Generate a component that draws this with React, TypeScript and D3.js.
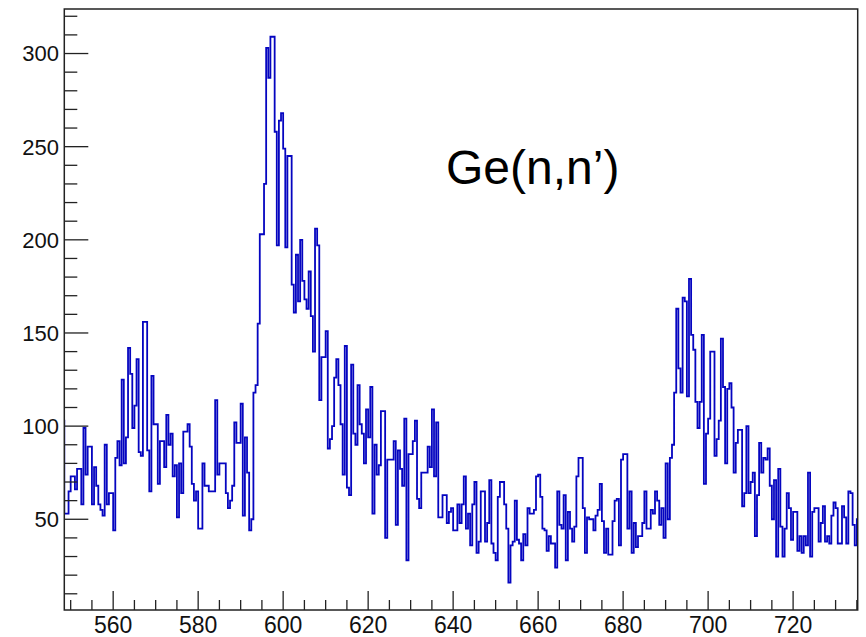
import React from "react";
import * as d3 from "d3";

// Histogram definition (energy axis, keV)
const HIST_START = 548.0;
const BIN_WIDTH = 0.5;

// bin just left of the visible range (clipped by the frame)
const leadBin = [103];
// 548.5 - 591 keV
const countsA = [
  53, 53, 65, 73, 73, 66, 77, 77, 58, 99, 74, 89, 89, 58, 78, 68, 58, 55, 52, 90,
  58, 64, 64, 44, 83, 92, 79, 125, 80, 94, 142, 128, 99, 111, 136, 86, 84, 156, 156, 87,
  65, 127, 101, 101, 69, 92, 92, 78, 106, 90, 96, 73, 79, 51, 80, 64, 97, 97, 101, 89,
  69, 60, 65, 45, 45, 80, 68, 68, 65, 65, 65, 114, 74, 80, 80, 80, 64, 56, 60, 68,
  102, 91, 91, 112, 52,
];
// 591 - 635.5 keV (main peak)
const countsB = [
  94, 75, 44, 50, 118, 122, 155, 203, 203, 230,
  303, 287, 309, 309, 258, 197, 264, 268, 249, 196,
  245, 245, 176, 161, 192, 167, 200, 178, 168, 163,
  183, 159, 140, 206, 197, 114, 137, 137, 151, 88,
  93, 100, 126, 136, 122, 101, 74, 143, 67, 63,
  133, 96, 90, 122, 101, 96, 80, 109, 94, 121,
  53, 90, 74, 79, 108, 108, 40, 82, 82, 82,
  92, 47, 87, 77, 68, 104, 28, 85, 85, 92,
  103, 61, 56, 75, 75, 75, 89, 78, 109,
];
// 635.5 - 689 keV (flat region)
const countsC = [
  73, 102, 51, 51, 63, 63, 48, 54, 56, 44,
  44, 58, 48, 58, 73, 45, 53, 36, 58, 70,
  32, 38, 65, 65, 38, 48, 71, 37, 32, 28,
  62, 70, 70, 58, 45, 16, 36, 38, 60, 39,
  37, 28, 42, 36, 56, 53, 53, 55, 73, 74,
  62, 45, 44, 33, 41, 37, 37, 24, 65, 47,
  45, 63, 28, 54, 45, 38, 46, 73, 83, 83,
  56, 32, 51, 50, 50, 44, 52, 55, 69, 49,
  32, 45, 31, 31, 49, 60, 61, 36, 82, 85,
  85, 45, 65, 32, 48, 35, 41, 41, 48, 65,
  45, 45, 55, 53, 65, 60, 47,
];
// 689 - 735.5 keV (second peak)
const countsD = [
  56, 40, 80, 50, 83, 90, 118, 163, 131, 118,
  169, 167, 116, 179, 149, 141, 113, 99, 113, 149,
  69, 96, 104, 140, 140, 84, 93, 103, 147, 121,
  80, 120, 123, 110, 75, 91, 98, 98, 57, 64,
  100, 64, 70, 75, 41, 63, 91, 75, 83, 82,
  88, 68, 50, 71, 30, 77, 46, 30, 45, 64,
  56, 39, 54, 54, 33, 41, 32, 41, 36, 75,
  30, 54, 56, 56, 38, 48, 57, 38, 41, 37,
  52, 59, 56, 37, 37, 57, 51, 37, 65, 64,
  47, 36, 50,
];

const xMajorTicks = [560, 580, 600, 620, 640, 660, 680, 700, 720];
const yMajorTicks = [50, 100, 150, 200, 250, 300];
const xDomain = [548.5, 735.2];
const yDomain = [1.3, 323.9];
const label = "Ge(n,n\u2019)";

export default function App() {
  const W = 866;
  const H = 637;
  const left = 64.3;
  const right = 857.7;
  const top = 9;
  const bottom = 610;

  const x = d3.scaleLinear().domain(xDomain).range([left, right]);
  const y = d3.scaleLinear().domain(yDomain).range([bottom, top]);

  const counts = [...leadBin, ...countsA, ...countsB, ...countsC, ...countsD];
  const pts: [number, number][] = counts.map((c, i) => [HIST_START + i * BIN_WIDTH, c]);
  pts.push([HIST_START + counts.length * BIN_WIDTH, counts[counts.length - 1]]);
  const line = d3
    .line<[number, number]>()
    .x((d) => x(d[0]))
    .y((d) => y(d[1]))
    .curve(d3.curveStepAfter);

  const xMinor = d3.range(550, 736, 5).filter((v) => !xMajorTicks.includes(v) && v >= xDomain[0] && v <= xDomain[1]);
  const yMinor = d3.range(10, 330, 10).filter((v) => !yMajorTicks.includes(v) && v >= yDomain[0] && v <= yDomain[1]);

  const font = "'Liberation Sans', Arial, Helvetica, sans-serif";
  const axisColor = "#222";

  return (
    <svg
      width={W}
      height={H}
      style={{ position: "absolute", left: 0, top: 0, background: "#fff" }}
    >
      <defs>
        <clipPath id="frame">
          <rect x={left} y={top} width={right - left} height={bottom - top} />
        </clipPath>
      </defs>
      <rect x={0} y={0} width={W} height={H} fill="#fff" />
      <path
        d={line(pts) || ""}
        fill="none"
        stroke="#0505c0"
        strokeWidth={1.8}
        clipPath="url(#frame)"
      />
      {/* frame */}
      <rect
        x={left}
        y={top}
        width={right - left}
        height={bottom - top}
        fill="none"
        stroke={axisColor}
        strokeWidth={1.5}
      />
      {/* x ticks */}
      {xMajorTicks.map((v) => (
        <g key={"xm" + v}>
          <line x1={x(v)} x2={x(v)} y1={bottom} y2={bottom - 19} stroke={axisColor} strokeWidth={1.3} />
          <text
            x={x(v)}
            y={633}
            textAnchor="middle"
            fontFamily={font}
            fontSize={23}
            fill="#111"
          >
            {v}
          </text>
        </g>
      ))}
      {xMinor.map((v) => (
        <line key={"xn" + v} x1={x(v)} x2={x(v)} y1={bottom} y2={bottom - 10} stroke={axisColor} strokeWidth={1.3} />
      ))}
      {/* y ticks */}
      {yMajorTicks.map((v) => (
        <g key={"ym" + v}>
          <line x1={left} x2={left + 24} y1={y(v)} y2={y(v)} stroke={axisColor} strokeWidth={1.3} />
          <text
            x={59}
            y={y(v)}
            dy="0.36em"
            textAnchor="end"
            fontFamily={font}
            fontSize={22}
            fill="#111"
          >
            {v}
          </text>
        </g>
      ))}
      {yMinor.map((v) => (
        <line key={"yn" + v} x1={left} x2={left + 13} y1={y(v)} y2={y(v)} stroke={axisColor} strokeWidth={1.3} />
      ))}
      <text x={446} y={184} fontFamily={font} fontSize={48} fill="#000">
        {label}
      </text>
    </svg>
  );
}
